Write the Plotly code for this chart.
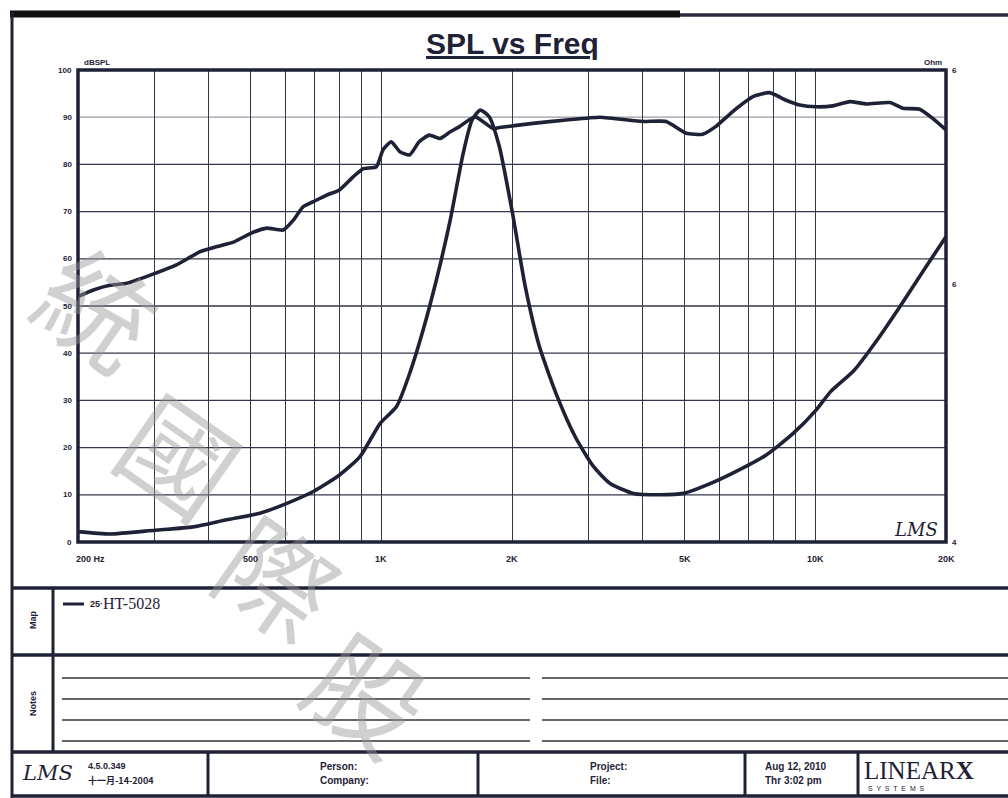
import math
import plotly.graph_objects as go

# ---------------- data ----------------
spl_freq = [200, 217, 237, 259, 301, 337, 382, 418, 458, 500, 544, 594, 627, 660, 697, 748,
            801, 862, 909, 974, 1009, 1054, 1103, 1162, 1222, 1289, 1365, 1441, 1513, 1643,
            1808, 1870, 2235, 2666, 3190, 4000, 4530, 5040, 5500, 5890, 6450, 7200, 7840,
            8560, 9200, 10050, 10980, 12000, 13120, 14860, 15920, 17390, 18610, 20000]
spl_db = [52.0, 53.4, 54.4, 54.8, 56.9, 58.7, 61.5, 62.6, 63.6, 65.4, 66.5, 66.1, 68.2, 71.0,
          72.1, 73.5, 74.6, 77.4, 79.1, 79.5, 83.1, 84.8, 82.7, 82.0, 84.8, 86.2, 85.5, 86.9,
          88.0, 90.1, 87.6, 87.8, 88.7, 89.4, 90.0, 89.1, 89.1, 86.6, 86.4, 88.0, 91.2, 94.4,
          95.2, 93.6, 92.6, 92.2, 92.4, 93.3, 92.8, 93.1, 91.9, 91.7, 89.8, 87.3]

imp_freq = [200, 237, 301, 368, 440, 525, 606, 697, 801, 893, 993, 1084, 1162, 1248, 1339,
            1441, 1544, 1618, 1690, 1772, 1870, 2005, 2146, 2313, 2543, 2797, 3081, 3366,
            3807, 4390, 4970, 5630, 6450, 7690, 8890, 10050, 10830, 12290, 13880, 15670,
            17690, 20000]
imp_val = [2.2, 1.7, 2.5, 3.2, 4.7, 6.1, 8.2, 10.7, 14.2, 18.1, 25.1, 28.7, 35.7, 44.9, 55.5,
           68.2, 82.4, 89.4, 91.5, 90.1, 83.8, 69.7, 54.1, 41.4, 30.8, 22.3, 16.0, 12.4,
           10.3, 10.0, 10.3, 12.1, 14.6, 18.4, 23.0, 28.0, 31.8, 36.4, 42.8, 49.9, 57.3, 64.7]

grid_freqs = [300, 400, 500, 600, 700, 800, 900, 1000, 2000, 3000, 4000, 5000, 6000,
              7000, 8000, 9000, 10000]
x_tick_vals = [500, 1000, 2000, 5000, 10000, 20000]
x_tick_text = ["500", "1K", "2K", "5K", "10K", "20K"]
y_tick_vals = [0, 10, 20, 30, 40, 50, 60, 70, 80, 90, 100]
y_grid_vals = [10, 20, 30, 40, 50, 60, 70, 80, 90]
ohm_tick_vals = [100, 54.5, 0]
ohm_tick_text = ["6", "6", "4"]

legend_id = "25·"
legend_name = "HT-5028"

INK = "#1f2236"
GRID = "#35364a"

# ---------------- pixel helpers (plot area 78..946 x 70..542) ----------------
L, R, T, B = 78, 946, 70, 542
W, H = 1008, 798


def px(x):
    return (x - L) / (R - L)


def py(y):
    return (B - y) / (B - T)


fig = go.Figure()

fig.add_trace(go.Scatter(x=spl_freq, y=spl_db, mode="lines",
                         line=dict(color=INK, width=3.6, shape="spline", smoothing=0.5),
                         hoverinfo="skip", showlegend=False))
fig.add_trace(go.Scatter(x=imp_freq, y=imp_val, mode="lines",
                         line=dict(color=INK, width=3.6, shape="spline", smoothing=0.6),
                         hoverinfo="skip", showlegend=False))

shapes = []
ann = []

# horizontal grid lines
for v in y_grid_vals:
    shapes.append(dict(type="line", xref="paper", yref="y", x0=0, x1=1, y0=v, y1=v,
                       line=dict(color="#9a9aa6" if v == 90 else GRID, width=1.3), layer="below"))

# plot frame
shapes.append(dict(type="rect", xref="paper", yref="paper", x0=0, x1=1, y0=0, y1=1,
                   line=dict(color=INK, width=3.5)))


def hline(y, x0, x1, w, color=INK):
    shapes.append(dict(type="line", xref="paper", yref="paper", x0=px(x0), x1=px(x1),
                       y0=py(y), y1=py(y), line=dict(color=color, width=w)))


def vline(x, y0, y1, w, color=INK):
    shapes.append(dict(type="line", xref="paper", yref="paper", x0=px(x), x1=px(x),
                       y0=py(y0), y1=py(y1), line=dict(color=color, width=w)))


# page frame
hline(14, 10, 680, 7, "#111")
hline(15, 680, 1008, 3.5, "#2a2a3a")
vline(12, 12, 798, 3)
hline(588, 12, 1008, 3.5)
hline(655, 12, 1008, 3.5)
hline(752, 12, 1008, 3.5)
hline(796, 12, 1008, 3.5)
vline(53, 588, 752, 3)
for xv in [208, 478, 745, 858]:
    vline(xv, 752, 796, 3)
for yv in [678, 699, 720, 741]:
    hline(yv, 62, 530, 1.5, "#333")
    hline(yv, 542, 1008, 1.5, "#333")
# legend sample line
hline(604, 63, 84, 3)


def text(x, y, s, size=10, bold=True, xanchor="center", family="Liberation Sans",
         color=INK, angle=0, yanchor="middle", italic=False):
    s = ("<i>%s</i>" % s) if italic else s
    ann.append(dict(x=px(x), y=py(y), xref="paper", yref="paper", showarrow=False,
                    text=("<b>%s</b>" % s) if bold else s, xanchor=xanchor, yanchor=yanchor,
                    textangle=angle, font=dict(family=family, size=size, color=color)))


# watermark
for ch, (wx, wy) in zip(["統", "國", "際", "股"], [(100, 305), (182, 452), (280, 575), (370, 690)]):
    text(wx, wy, ch, size=112, bold=False, family="Noto Sans CJK TC", angle=35,
         color="rgba(150,150,150,0.45)")

# title
text(512, 44, "<u>SPL vs Freq</u>", size=30, family="Liberation Sans")
text(82, 63, "dBSPL", size=8, xanchor="left")
text(944, 63, "Ohm", size=8, xanchor="right")

# left y tick labels
for v in y_tick_vals:
    text(74, B - v / 100 * (B - T), str(v), size=8, xanchor="right")
# right tick labels
for v, t in zip(ohm_tick_vals, ohm_tick_text):
    text(950, B - v / 100 * (B - T), t, size=8, xanchor="left")
# x tick labels
text(74, 559, "200 Hz", size=9, xanchor="left")
for v, t in zip(x_tick_vals, x_tick_text):
    xx = L + (R - L) * math.log10(v / 200) / 2
    text(xx, 559, t, size=9)

# LMS mark in plot
text(916, 529, "LMS", size=18, bold=False, family="DejaVu Serif", italic=True)

# map / notes
text(33, 620, "Map", size=9, angle=-90)
text(33, 704, "Notes", size=9, angle=-90)
text(88, 604, legend_id, size=9, xanchor="left")
text(101, 603, legend_name, size=16, bold=False, family="Liberation Serif", xanchor="left")

# footer
text(20, 773, "LMS", size=21, bold=False, family="DejaVu Serif", italic=True, xanchor="left")
text(86, 766, "4.5.0.349", size=9, xanchor="left")
text(86, 780, "十一月-14-2004", size=9, xanchor="left", family="Noto Sans CJK TC")
text(318, 766, "Person:", size=10, xanchor="left")
text(318, 780, "Company:", size=10, xanchor="left")
text(588, 766, "Project:", size=10, xanchor="left")
text(588, 780, "File:", size=10, xanchor="left")
text(763, 766, "Aug 12, 2010", size=10, xanchor="left")
text(763, 780, "Thr 3:02 pm", size=10, xanchor="left")
text(862, 770, "LINEAR<b>X</b>", size=25, bold=False, family="Liberation Serif", xanchor="left")
text(866, 788, "S  Y  S  T  E  M  S", size=7, bold=False, xanchor="left")

fig.update_layout(
    width=W, height=H,
    margin=dict(l=L, r=W - R, t=T, b=H - B, pad=0),
    paper_bgcolor="white", plot_bgcolor="white",
    xaxis=dict(type="log", range=[math.log10(200), math.log10(20000)], showgrid=True,
               tickvals=grid_freqs, gridcolor=GRID, gridwidth=1.3, showticklabels=False,
               zeroline=False, showline=False, fixedrange=True),
    yaxis=dict(range=[0, 100], showgrid=False, showticklabels=False, zeroline=False,
               showline=False, fixedrange=True),
    shapes=shapes, annotations=ann, showlegend=False,
)

fig.write_html("out.html", config={"displayModeBar": False},
               post_script="document.body.style.margin='0';document.body.style.overflow='hidden';")
